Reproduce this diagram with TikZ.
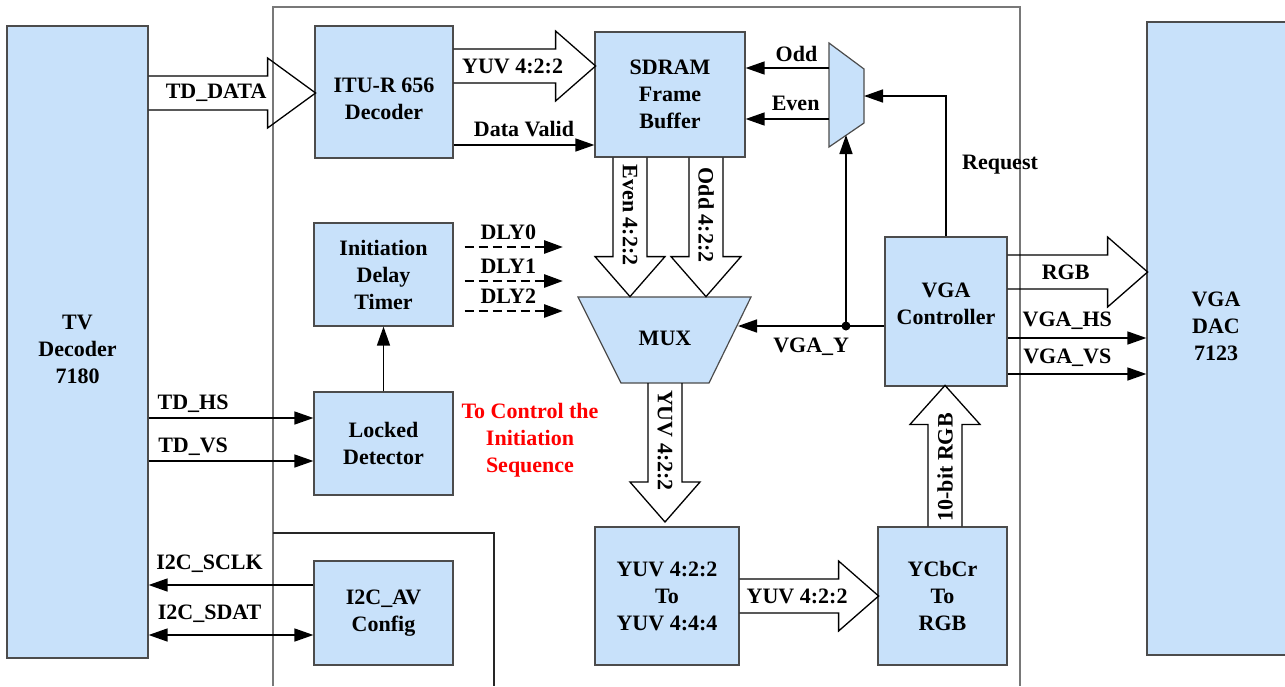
\documentclass[tikz,border=0pt]{standalone}
\usepackage{fontspec}
\setmainfont{Liberation Serif}
\usetikzlibrary{arrows.meta}

\definecolor{boxblue}{RGB}{200,225,250}
\definecolor{framegray}{RGB}{120,120,120}

\tikzset{
  blk/.style={draw=black!70, line width=1.2pt, fill=boxblue, align=center, inner sep=0pt},
  fat/.style={draw=black, line width=1.3pt},
  sig/.style={line width=1.5pt, -{Triangle[length=19pt,width=13pt]}},
  dsig/.style={line width=1.5pt, {Triangle[length=19pt,width=13pt]}-{Triangle[length=19pt,width=13pt]}},
  dly/.style={sig, line width=2.8pt, dash pattern=on 9pt off 5pt},
  lbl/.style={inner sep=2pt}
}

% hollow bus arrow: start, direction, length, head length, label
\newcommand{\fatarrow}[5]{%
  \begin{scope}[shift={#1}, rotate=#2]
    \draw[fat] (0,-17) -- (#3-#4,-17) -- (#3-#4,-35) -- (#3,0) -- (#3-#4,35) -- (#3-#4,17) -- (0,17);
    \node[lbl, rotate=#2] at ({(#3-#4)/2+8},0) {#5};
  \end{scope}}

\begin{document}
\begin{tikzpicture}[x=1pt, y=-1pt, font=\fontsize{22}{27}\selectfont\bfseries]
  \useasboundingbox (0,0) rectangle (1285,686);
  % frames
  \draw[framegray, line width=1.3pt] (273,686) |- (1020,7) -- (1020,686);
  \draw[black!85, line width=1.2pt] (273,533) -| (494,686);

  % blocks
  \node[blk, minimum width=141pt, minimum height=632pt] (tv) at (77.5,342) {};
  \node[align=center] (tvtext) at (77.5,349) {TV\\Decoder\\7180};
  \node[blk, minimum width=138pt, minimum height=132pt] (itu) at (384,92) {};
  \node[align=center] (itutext) at (384,99) {ITU-R 656\\Decoder};
  \node[blk, minimum width=150pt, minimum height=125pt] (sdram) at (670,94.5) {SDRAM\\Frame\\Buffer};
  \node[blk, minimum width=139pt, minimum height=103pt] (timer) at (383.5,274.5) {Initiation\\Delay\\Timer};
  \node[blk, minimum width=139pt, minimum height=103pt] (locked) at (383.5,443.5) {Locked\\Detector};
  \node[blk, minimum width=139pt, minimum height=104pt] (i2c) at (383.5,613) {I2C\_AV\\Config};
  \node[blk, minimum width=122pt, minimum height=149pt] (vga) at (946,311.5) {};
  \node[align=center] (vgatext) at (946,304) {VGA\\Controller};
  \node[blk, minimum width=140pt, minimum height=633pt] (dac) at (1217,338.5) {};
  \node[align=center] (dactext) at (1216,326) {VGA\\DAC\\7123};
  \node[blk, minimum width=144pt, minimum height=138pt] (conv) at (667,596) {YUV 4:2:2\\To\\YUV 4:4:4};
  \node[blk, minimum width=129pt, minimum height=138pt] (ycbcr) at (942.5,596) {YCbCr\\To\\RGB};

  % mux and odd/even selector
  \draw[blk] (578,297) -- (751,297) -- (709,383) -- (621,383) -- cycle;
  \node (mux) at (665,338) {MUX};
  \coordinate (muxin) at (738,326);
  \coordinate (muxout) at (665,383);
  \draw[blk] (829,43) -- (864,69) -- (864,123) -- (829,147) -- cycle;
  \coordinate (selodd) at (829,68);
  \coordinate (seleven) at (829,119);
  \coordinate (selreq) at (864,96);
  \coordinate (selbot) at (846,135);

  % bus arrows
  \fatarrow{(tv.east |- 0,93)}{0}{167}{48}{TD\_DATA}
  \fatarrow{(itu.east |- 0,66)}{0}{142}{40}{YUV 4:2:2}
  \fatarrow{(630,0 |- sdram.south)}{-90}{139}{40}{Even 4:2:2}
  \fatarrow{(706,0 |- sdram.south)}{-90}{139}{40}{Odd 4:2:2}
  \fatarrow{(muxout)}{-90}{139}{40}{YUV 4:2:2}
  \fatarrow{(conv.east |- 0,596)}{0}{139}{40}{YUV 4:2:2}
  \fatarrow{(ycbcr.north -| 945,0)}{90}{141}{39}{10-bit RGB}
  \fatarrow{(vga.east |- 0,272)}{0}{140}{40}{RGB}

  % signals
  \draw[sig] (itu.east |- 0,145) -- (sdram.west |- 0,145) node[lbl, midway, above=5pt] {Data Valid};
  \draw[sig] (selodd) -- (sdram.east |- selodd) node[lbl, pos=0.39, above=4pt] {Odd};
  \draw[sig] (seleven) -- (sdram.east |- seleven) node[lbl, pos=0.4, above=6pt] {Even};
  \draw[sig] (vga.north) |- (selreq);
  \node[lbl] (req) at (1000,165) {Request};
  \coordinate (jn) at (846,326);
  \draw[sig] (vga.west |- jn) -- (muxin) node[lbl, midway, below=9pt] {VGA\_Y};
  \draw[sig] (jn) -- (selbot);
  \fill (jn) circle (4.5pt);
  \foreach \i/\yy in {0/247,1/281,2/311} {
    \coordinate (dly\i) at (563,\yy);
    \draw[dly, shorten <=11pt] (timer.east |- dly\i) -- (dly\i) node[lbl, midway, above=4pt] {DLY\i};
  }
  \draw[sig] (locked) -- (timer);
  \draw[sig] (tv.east |- 0,418) -- (locked.west |- 0,418) node[lbl, pos=0.27, above=3pt] {TD\_HS};
  \draw[sig] (tv.east |- 0,461) -- (locked.west |- 0,461) node[lbl, pos=0.27, above=3pt] {TD\_VS};
  \draw[sig] (i2c.west |- 0,585) -- (tv.east |- 0,585) node[lbl, pos=0.63, above=10pt] {I2C\_SCLK};
  \draw[dsig] (tv.east |- 0,635) -- (i2c.west |- 0,635) node[lbl, pos=0.37, above=10pt] {I2C\_SDAT};
  \draw[sig] (vga.east |- 0,338) -- (dac.west |- 0,338) node[lbl, pos=0.43, above=6pt] {VGA\_HS};
  \draw[sig] (vga.east |- 0,374) -- (dac.west |- 0,374) node[lbl, pos=0.43, above=5pt] {VGA\_VS};

  % note
  \node[text=red, align=center] (note) at (530,440) {To Control the\\Initiation\\Sequence};
\end{tikzpicture}
\end{document}
